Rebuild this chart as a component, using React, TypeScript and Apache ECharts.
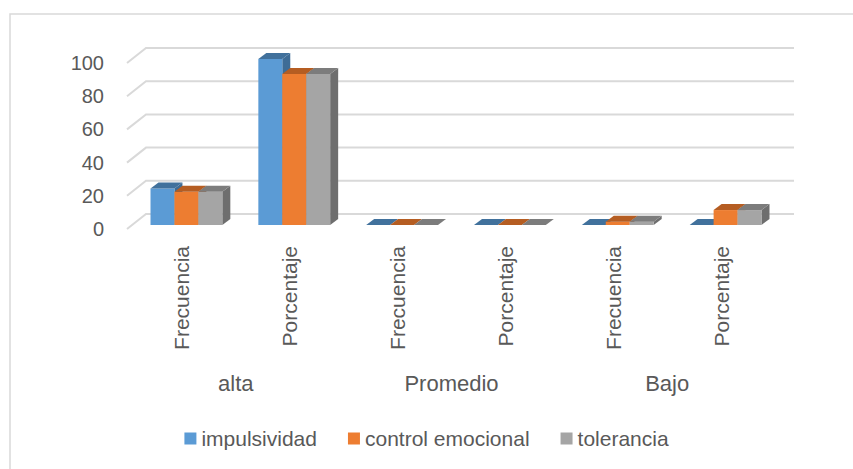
import React, { useEffect, useRef } from "react";
import * as echarts from "echarts";

const categories = ["Frecuencia", "Porcentaje", "Frecuencia", "Porcentaje", "Frecuencia", "Porcentaje"];
const groups = ["alta", "Promedio", "Bajo"];
const seriesNames = ["impulsividad", "control emocional", "tolerancia"];
const impulsividad = [22, 100, 0, 0, 0, 0];
const controlEmocional = [20, 91, 0, 0, 2, 9];
const tolerancia = [20, 91, 0, 0, 2, 9];
const yTicks = [0, 20, 40, 60, 80, 100];

const frontColors = ["#5B9BD5", "#ED7D31", "#A5A5A5"];
const topColors = ["#41719C", "#B55D22", "#7C7C7C"];
const sideColors = ["#3E6C96", "#A8561F", "#6E6E6E"];

const FONT = "Liberation Sans, Arial, sans-serif";
const TEXT = "#595959";
const WALL_DX = 19;
const WALL_DY = -15;
const BAR_FX = 4.5;
const BAR_FY = -4;
const BAR_DX = 8;
const BAR_DY = -6;

export default function App() {
  const ref = useRef<HTMLDivElement>(null);
  useEffect(() => {
    if (!ref.current) return;
    const chart = echarts.init(ref.current, undefined, { renderer: "svg" });
    const all = [impulsividad, controlEmocional, tolerancia];

    const barSeries = all.map((vals, s) => ({
      name: seriesNames[s],
      type: "custom",
      xAxisIndex: 0,
      yAxisIndex: 0,
      z: 5 + s,
      itemStyle: { color: frontColors[s] },
      data: vals.map((v, i) => [i, v]),
      renderItem: (params: any, api: any) => {
        const cat = api.value(0);
        const val = api.value(1);
        const base = api.coord([cat, 0]);
        const top = api.coord([cat, val]);
        const band = api.size([1, 0])[0];
        const w = band * 0.222;
        const x0 = base[0] - 1.5 * w + s * w + BAR_FX;
        const yb = base[1] + BAR_FY;
        const yt = top[1] + BAR_FY;
        const children: any[] = [];
        children.push({
          type: "polygon",
          shape: { points: [[x0 + w, yt], [x0 + w + BAR_DX, yt + BAR_DY], [x0 + w + BAR_DX, yb + BAR_DY], [x0 + w, yb]] },
          style: { fill: sideColors[s] },
        });
        if (yb - yt > 0.1) {
          children.push({
            type: "rect",
            shape: { x: x0, y: yt, width: w, height: yb - yt },
            style: { fill: frontColors[s] },
          });
        }
        children.push({
          type: "polygon",
          shape: { points: [[x0, yt], [x0 + w, yt], [x0 + w + BAR_DX, yt + BAR_DY], [x0 + BAR_DX, yt + BAR_DY]] },
          style: { fill: topColors[s] },
        });
        return { type: "group", children };
      },
    }));

    const gridSeries = {
      type: "custom",
      xAxisIndex: 0,
      yAxisIndex: 0,
      z: 1,
      silent: true,
      data: yTicks.map((v) => [0, v]),
      renderItem: (params: any, api: any) => {
        const v = api.value(1);
        const p = api.coord([0, v]);
        const cs = params.coordSys;
        const x0 = cs.x - 1;
        return {
          type: "polyline",
          shape: {
            points: [
              [x0, p[1]],
              [x0 + WALL_DX, p[1] + WALL_DY],
              [cs.x + cs.width + WALL_DX, p[1] + WALL_DY],
            ],
          },
          style: { stroke: "#D9D9D9", lineWidth: 2, fill: "none" },
        };
      },
    };

    chart.setOption({
      animation: false,
      backgroundColor: "#ffffff",
      color: frontColors,
      textStyle: { fontFamily: FONT },
      graphic: [
        {
          type: "rect",
          shape: { x: 10, y: 14, width: 900, height: 500 },
          style: { fill: "none", stroke: "#D9D9D9", lineWidth: 1.5 },
          silent: true,
        },
      ],
      legend: {
        data: seriesNames,
        bottom: 15,
        left: "center",
        icon: "rect",
        itemWidth: 12,
        itemHeight: 12,
        itemGap: 31,
        textStyle: { fontSize: 21, color: TEXT, fontFamily: FONT },
      },
      grid: { left: 128, right: 78, top: 63, bottom: 240 },
      xAxis: [
        {
          type: "category",
          gridIndex: 0,
          data: categories,
          axisLine: { show: false },
          axisTick: { show: false },
          axisLabel: { rotate: 90, margin: 17, fontSize: 21, color: TEXT, fontFamily: FONT, interval: 0 },
        },
        {
          type: "category",
          gridIndex: 0,
          position: "bottom",
          data: groups,
          axisLine: { show: false },
          axisTick: { show: false },
          axisLabel: { margin: 143, fontSize: 22, color: TEXT, fontFamily: FONT, interval: 0 },
        },
      ],
      yAxis: {
        type: "value",
        min: 0,
        max: 100,
        interval: 20,
        axisLine: { show: false },
        axisTick: { show: false },
        splitLine: { show: false },
        axisLabel: { margin: 24, fontSize: 20, color: TEXT, fontFamily: FONT },
      },
      series: [gridSeries, ...barSeries],
    });
    return () => chart.dispose();
  }, []);
  return (
    <div
      ref={ref}
      style={{ position: "fixed", left: 0, top: 0, width: 853, height: 469, background: "#fff" }}
    />
  );
}
